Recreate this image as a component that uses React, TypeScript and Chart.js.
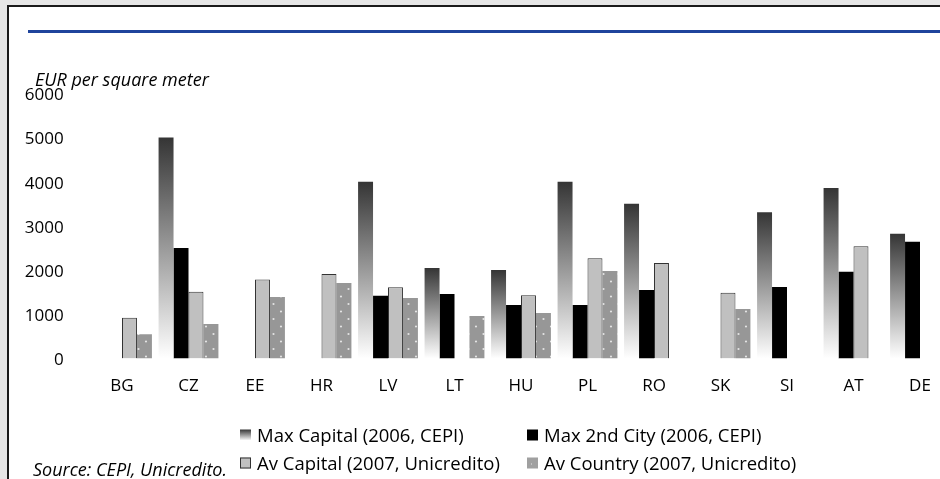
import React, { useEffect, useRef } from "react";
import { Chart, registerables } from "chart.js";

Chart.register(...registerables);

const categories = ["BG", "CZ", "EE", "HR", "LV", "LT", "HU", "PL", "RO", "SK", "SI", "AT", "DE"];
const maxCapital = [null, 5000, null, null, 4000, 2050, 2000, 4000, 3500, null, 3310, 3860, 2820];
const max2ndCity = [null, 2500, null, null, 1420, 1460, 1210, 1210, 1550, null, 1620, 1960, 2640];
const avCapital = [920, 1510, 1790, 1910, 1610, null, 1430, 2270, 2160, 1490, null, 2540, null];
const avCountry = [550, 780, 1390, 1710, 1370, 960, 1030, 1980, null, 1120, null, null, null];
const seriesLabels = [
  "Max Capital (2006, CEPI)",
  "Max 2nd City (2006, CEPI)",
  "Av Capital (2007, Unicredito)",
  "Av Country (2007, Unicredito)",
];
const yTicks = [0, 1000, 2000, 3000, 4000, 5000, 6000];
const unitLabel = "EUR per square meter";
const sourceLabel = "Source: CEPI, Unicredito.";

const FONT = "'Open Sans', Lato, sans-serif";

function makeDotPattern(ctx: CanvasRenderingContext2D) {
  const c = document.createElement("canvas");
  c.width = 15;
  c.height = 15;
  const p = c.getContext("2d")!;
  p.fillStyle = "#979797";
  p.fillRect(0, 0, 15, 15);
  p.fillStyle = "#e4e4e4";
  p.beginPath();
  p.arc(3.5, 4, 1.1, 0, Math.PI * 2);
  p.arc(11, 11.5, 1.1, 0, Math.PI * 2);
  p.fill();
  return ctx.createPattern(c, "repeat")!;
}

function gradientFill(c: any) {
  const chart = c.chart;
  if (!chart.chartArea || c.type !== "data" || c.raw == null) return "#555";
  const y = chart.scales.y;
  const top = y.getPixelForValue(c.raw);
  const bot = y.getPixelForValue(0);
  const g = chart.ctx.createLinearGradient(0, top, 0, bot);
  g.addColorStop(0, "#353535");
  g.addColorStop(1, "#ffffff");
  return g;
}

const extrasPlugin = {
  id: "extras",
  afterDraw(chart: any) {
    const ctx: CanvasRenderingContext2D = chart.ctx;
    ctx.save();
    ctx.fillStyle = "#000";
    ctx.textBaseline = "alphabetic";
    ctx.textAlign = "left";
    ctx.font = `italic 18px ${FONT}`;
    ctx.fillText(unitLabel, 35, 86);
    ctx.fillText(sourceLabel, 33, 476);

    // legend
    const cols = [240, 527];
    const rows = [441.5, 469.5];
    chart.data.datasets.forEach((ds: any, i: number) => {
      const x = cols[i % 2];
      const base = rows[Math.floor(i / 2)];
      const size = 11;
      const top = base - size - 1;
      if (i === 0) {
        const g = ctx.createLinearGradient(0, top, 0, top + size);
        g.addColorStop(0, "#353535");
        g.addColorStop(1, "#ffffff");
        ctx.fillStyle = g;
        ctx.fillRect(x, top, size, size);
      } else if (i === 1) {
        ctx.fillStyle = "#000";
        ctx.fillRect(x, top, size, size);
      } else if (i === 2) {
        ctx.fillStyle = "#c0c0c0";
        ctx.fillRect(x, top, size, size);
        ctx.strokeStyle = "#333";
        ctx.lineWidth = 1;
        ctx.strokeRect(x + 0.5, top + 0.5, size - 1, size - 1);
      } else {
        ctx.fillStyle = "#a0a0a0";
        ctx.fillRect(x, top, size, size);
        ctx.fillStyle = "#e4e4e4";
        ctx.fillRect(x + 4, top + 6, 1, 1);
      }
      ctx.fillStyle = "#000";
      ctx.font = `18.5px ${FONT}`;
      ctx.fillText(ds.label, x + 17, base);
    });
    ctx.restore();
  },
};

export default function App() {
  const ref = useRef<HTMLCanvasElement>(null);

  useEffect(() => {
    const canvas = ref.current!;
    const ctx = canvas.getContext("2d")!;
    const pattern = makeDotPattern(ctx);
    const chart = new Chart(canvas, {
      type: "bar",
      data: {
        labels: categories,
        datasets: [
          { label: seriesLabels[0], data: maxCapital, backgroundColor: gradientFill, borderWidth: 0 },
          { label: seriesLabels[1], data: max2ndCity, backgroundColor: "#000000", borderWidth: 0 },
          {
            label: seriesLabels[2],
            data: avCapital,
            backgroundColor: "#c0c0c0",
            borderColor: "#333333",
            borderWidth: 1,
          },
          { label: seriesLabels[3], data: avCountry, backgroundColor: pattern as any, borderWidth: 0 },
        ],
      },
      options: {
        responsive: false,
        animation: false,
        devicePixelRatio: 1,
        layout: { padding: { left: 0, top: 93.3, right: 46.75, bottom: 80.5 } },
        datasets: { bar: { categoryPercentage: 0.9, barPercentage: 1.0 } },
        plugins: {
          legend: { display: false },
          tooltip: { enabled: false },
          title: { display: false },
        },
        scales: {
          x: {
            grid: { display: false },
            border: { display: false },
            ticks: { color: "#000", font: { family: FONT, size: 17 }, padding: 9, maxRotation: 0 },
            afterFit: (s: any) => {
              s.height = 40;
            },
          },
          y: {
            min: 0,
            max: 6000,
            grid: { display: false },
            border: { display: false },
            afterBuildTicks: (s: any) => {
              s.ticks = yTicks.map((v) => ({ value: v }));
            },
            ticks: {
              color: "#000",
              font: { family: FONT, size: 17 },
              padding: 17,
              labelOffset: 2,
              callback: (v: any) => String(v),
            },
            afterFit: (s: any) => {
              s.width = 88.75;
            },
          },
        },
      },
      plugins: [extrasPlugin],
    });
    return () => chart.destroy();
  }, []);

  return (
    <div
      style={{
        position: "fixed",
        left: 0,
        top: 0,
        width: 940,
        height: 479,
        background: "#e6e6e6",
        overflow: "hidden",
      }}
    >
      <div
        style={{
          position: "absolute",
          left: 7,
          top: 5,
          width: 1000,
          height: 520,
          border: "2px solid #1a1a1a",
          background: "#fff",
        }}
      />
      <div
        style={{
          position: "absolute",
          left: 28,
          top: 30,
          width: 960,
          height: 3,
          background: "#1f449c",
        }}
      />
      <canvas
        ref={ref}
        width={1000}
        height={479}
        style={{ position: "absolute", left: 0, top: 0, width: 1000, height: 479 }}
      />
    </div>
  );
}
